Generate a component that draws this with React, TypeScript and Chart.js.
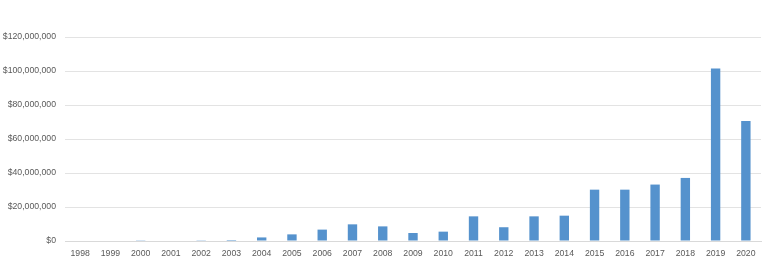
import React, { useEffect, useRef } from "react";
import { Chart, registerables } from "chart.js";

Chart.register(...registerables);

const years = [
  "1998", "1999", "2000", "2001", "2002", "2003", "2004", "2005", "2006", "2007", "2008", "2009",
  "2010", "2011", "2012", "2013", "2014", "2015", "2016", "2017", "2018", "2019", "2020",
];

const amounts = [
  0, 0, 150000, 0, 150000, 600000, 2100000, 3900000, 6700000, 9800000, 8600000, 4700000,
  5500000, 14500000, 8100000, 14500000, 14900000, 30200000, 30200000, 33200000, 37100000,
  101400000, 70600000,
];

const yMax = 120000000;
const yStep = 20000000;

export default function App() {
  const ref = useRef<HTMLCanvasElement | null>(null);

  useEffect(() => {
    if (!ref.current) return;
    const font = { family: "'Liberation Sans', Arial, sans-serif", size: 8.7 };
    const chart = new Chart(ref.current, {
      type: "bar",
      data: {
        labels: years,
        datasets: [
          {
            data: amounts,
            backgroundColor: "#5592CD",
            borderWidth: 0,
            barPercentage: 0.31,
            categoryPercentage: 1,
          },
        ],
      },
      options: {
        responsive: false,
        animation: false,
        layout: { padding: { top: 37, right: 7, bottom: 0, left: 0 } },
        plugins: { legend: { display: false }, tooltip: { enabled: false } },
        scales: {
          x: {
            afterFit: (scale: any) => {
              scale.height = 24;
            },
            grid: { display: false, drawTicks: false },
            border: { display: true, color: "#D9D9D9", width: 1 },
            ticks: { color: "#595959", font, padding: 7, maxRotation: 0, autoSkip: false },
          },
          y: {
            min: 0,
            max: yMax,
            afterFit: (scale: any) => {
              scale.width = 65;
            },
            grid: { color: "#E3E3E3", lineWidth: 1, drawTicks: false },
            border: { display: false },
            ticks: {
              stepSize: yStep,
              color: "#595959",
              font,
              padding: 9,
              callback: (v: any) => "$" + Number(v).toLocaleString("en-US"),
            },
          },
        },
      },
    });
    return () => chart.destroy();
  }, []);

  return (
    <div style={{ position: "absolute", left: 0, top: 0, width: 768, height: 265, background: "#fff" }}>
      <canvas ref={ref} width={768} height={265} style={{ display: "block" }} />
    </div>
  );
}
